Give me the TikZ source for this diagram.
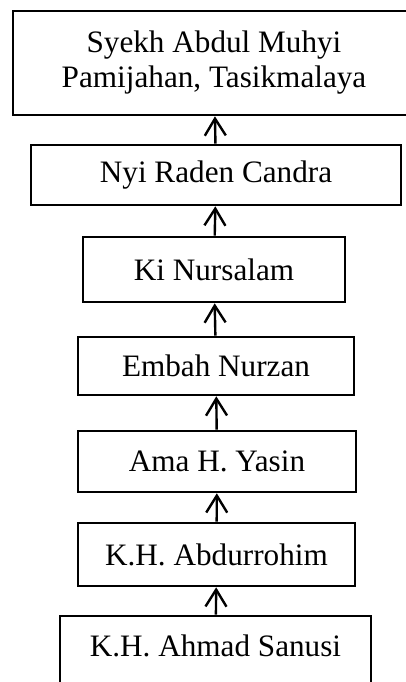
\documentclass[tikz,border=0pt]{standalone}
\usepackage{fontspec}
\setmainfont{Liberation Serif}
\usetikzlibrary{arrows.meta}

\begin{document}
\begin{tikzpicture}[x=0.5pt, y=-0.5pt,
    silsilah/.style={draw, line width=1.3pt, inner sep=0pt, align=center,
      font=\fontsize{15.6}{17.5}\selectfont},
    naik/.style={line width=1.2pt, -{Straight Barb[length=8.5pt, width=10.5pt, line width=1.2pt]}}]
  \useasboundingbox (0,0) rectangle (406,682);
  % nodes, from top to bottom
  \node[silsilah, minimum width=201pt, minimum height=52pt] (syekh) at (214,63)
    {Syekh Abdul Muhyi\\Pamijahan, Tasikmalaya};
  \node[silsilah, minimum width=185pt, minimum height=30pt] (nyi) at (216,175) {Nyi Raden Candra};
  \node[silsilah, minimum width=131pt, minimum height=32.5pt] (ki) at (214,269.5) {Ki Nursalam};
  \node[silsilah, minimum width=138pt, minimum height=29pt] (embah) at (216,366) {Embah Nurzan};
  \node[silsilah, minimum width=139pt, minimum height=30.5pt] (ama) at (217,461.5) {Ama H. Yasin};
  \node[silsilah, minimum width=138.5pt, minimum height=31.5pt] (abdurrohim) at (216.5,554.5) {K.H. Abdurrohim};
  \node[silsilah, minimum width=155.5pt, minimum height=40pt, text depth=0pt] (sanusi) at (215.5,656)
    {\raisebox{10pt}{K.H. Ahmad Sanusi}};
  % arrows
  \draw[naik] (nyi) -- (syekh);
  \draw[naik] (ki) -- (nyi);
  \draw[naik] (embah) -- (ki);
  \draw[naik] (ama) -- (embah);
  \draw[naik] (abdurrohim) -- (ama);
  \draw[naik] (sanusi) -- (abdurrohim);
\end{tikzpicture}
\end{document}
